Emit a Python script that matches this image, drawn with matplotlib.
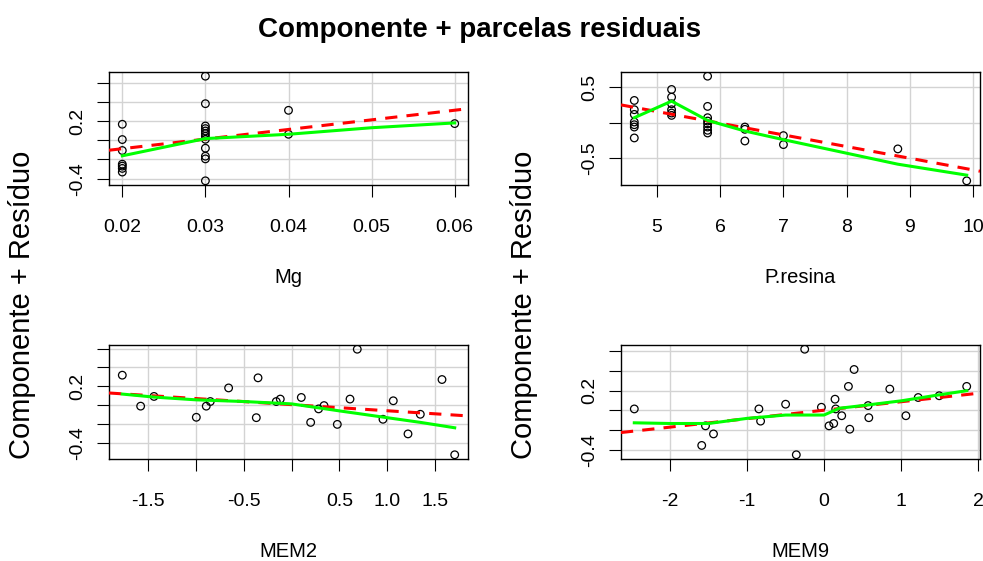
import matplotlib
matplotlib.use("Agg")
import matplotlib.pyplot as plt

plt.rcParams["font.family"] = ["Liberation Sans", "DejaVu Sans"]

# --- Mg ---
mg_x = [0.02, 0.02, 0.02, 0.02, 0.02, 0.02, 0.02,
        0.03, 0.03, 0.03, 0.03, 0.03, 0.03, 0.03, 0.03, 0.03, 0.03, 0.03, 0.03,
        0.04, 0.04, 0.06]
mg_y = [0.166, 0.007, -0.107, -0.249, -0.269, -0.293, -0.331,
        0.666, 0.380, 0.148, 0.121, 0.096, 0.069, 0.041, 0.010, -0.083, -0.166, -0.194, -0.422,
        0.311, 0.062, 0.173]
mg_lin = (10.0, -0.288)  # slope, intercept
mg_lo_x = [0.02, 0.03, 0.04, 0.05, 0.06]
mg_lo_y = [-0.162, 0.017, 0.062, 0.130, 0.180]

# --- P.resina ---
pr_x = [4.64] * 7 + [5.23] * 6 + [5.80] * 8 + [6.39] * 3 + [7.0] * 2 + [8.81, 9.90]
pr_y = [0.314, 0.183, 0.117, 0.009, -0.029, -0.062, -0.216,
        0.469, 0.361, 0.267, 0.183, 0.136, 0.103,
        0.657, 0.230, 0.070, 0.023, -0.014, -0.062, -0.108, -0.146,
        -0.062, -0.094, -0.259,
        -0.183, -0.310,
        -0.371, -0.822]
pr_lin = (-0.165, 0.982)
pr_lo_x = [4.64, 5.23, 5.80, 6.39, 7.0, 8.81, 9.90]
pr_lo_y = [0.070, 0.304, 0.032, -0.118, -0.240, -0.587, -0.742]

# --- MEM2 ---
m2_x = [-1.772, -1.580, -1.440, -0.997, -0.893, -0.851, -0.659, -0.369, -0.351, -0.160,
        -0.118, 0.102, 0.200, 0.283, 0.340, 0.479, 0.612, 0.688, 0.957, 1.065,
        1.219, 1.348, 1.575, 1.708]
m2_y = [0.318, -0.010, 0.093, -0.128, -0.010, 0.039, 0.183, -0.132, 0.290, 0.039,
        0.065, 0.082, -0.182, -0.039, -0.004, -0.203, 0.065, 0.593, -0.149, 0.047,
        -0.304, -0.096, 0.272, -0.525]
m2_lin = (-0.0646, 0.006)
m2_lo_x = [-1.772, -1.44, -1.0, -0.5, 0.0, 0.5, 1.0, 1.35, 1.708]
m2_lo_y = [0.118, 0.086, 0.057, 0.039, 0.014, -0.060, -0.132, -0.182, -0.239]

# --- MEM9 ---
m9_x = [-2.465, -1.589, -1.540, -1.436, -0.846, -0.824, -0.499, -0.360, -0.251, -0.034,
        0.065, 0.126, 0.143, 0.152, 0.230, 0.317, 0.335, 0.391, 0.573, 0.582,
        0.855, 1.064, 1.224, 1.497, 1.854]
m9_y = [0.015, -0.356, -0.157, -0.239, 0.015, -0.109, 0.063, -0.451, 0.622, 0.032,
        -0.157, -0.133, 0.114, 0.015, -0.054, 0.244, -0.191, 0.416, 0.049, -0.074,
        0.217, -0.054, 0.131, 0.149, 0.244]
m9_lin = (0.086, 0.002)
m9_lo_x = [-2.465, -2.0, -1.5, -1.0, -0.5, 0.0, 0.2, 0.5, 1.0, 1.5, 1.854]
m9_lo_y = [-0.126, -0.133, -0.133, -0.081, -0.047, -0.047, 0.022, 0.049, 0.097, 0.159, 0.200]

panels = [
    dict(name="Mg", x=mg_x, y=mg_y, lin=mg_lin, lx=mg_lo_x, ly=mg_lo_y,
         xt=[0.02, 0.03, 0.04, 0.05, 0.06], xl=["0.02", "0.03", "0.04", "0.05", "0.06"],
         yt=[-0.4, -0.2, 0.0, 0.2, 0.4, 0.6], yl=["-0.4", "", "", "0.2", "", ""],
         rect=[109, 72, 468, 185]),
    dict(name="P.resina", x=pr_x, y=pr_y, lin=pr_lin, lx=pr_lo_x, ly=pr_lo_y,
         xt=[5, 6, 7, 8, 9, 10], xl=["5", "6", "7", "8", "9", "10"],
         yt=[-0.5, 0.0, 0.5], yl=["-0.5", "", "0.5"],
         rect=[621, 72, 980, 185]),
    dict(name="MEM2", x=m2_x, y=m2_y, lin=m2_lin, lx=m2_lo_x, ly=m2_lo_y,
         xt=[-1.5, -1.0, -0.5, 0.0, 0.5, 1.0, 1.5],
         xl=["-1.5", "", "-0.5", "", "0.5", "1.0", "1.5"],
         yt=[-0.4, -0.2, 0.0, 0.2, 0.4, 0.6], yl=["-0.4", "", "", "0.2", "", ""],
         rect=[109, 345, 468, 459]),
    dict(name="MEM9", x=m9_x, y=m9_y, lin=m9_lin, lx=m9_lo_x, ly=m9_lo_y,
         xt=[-2, -1, 0, 1, 2], xl=["-2", "-1", "0", "1", "2"],
         yt=[-0.4, -0.2, 0.0, 0.2, 0.4, 0.6], yl=["-0.4", "", "", "0.2", "", ""],
         rect=[621, 345, 980, 459]),
]


def padded(v, frac=0.04):
    lo, hi = min(v), max(v)
    d = (hi - lo) * frac
    return lo - d, hi + d


W, H = 983, 561
fig = plt.figure(figsize=(W / 100, H / 100), dpi=100)

for p in panels:
    x0, y0, x1, y1 = p["rect"]
    ax = fig.add_axes([x0 / W, 1 - y1 / H, (x1 - x0) / W, (y1 - y0) / H])
    ax.scatter(p["x"], p["y"], s=30, facecolors="none", edgecolors="black",
               linewidths=0.9, zorder=3)
    s, c = p["lin"]
    ax.axline((0, c), slope=s, color="#FF0000", lw=2.2, ls=(0, (4, 3)), zorder=4)
    ax.plot(p["lx"], p["ly"], color="#00FF00", lw=2.2, zorder=5)
    ax.set_xlim(*padded(p["x"]))
    ax.set_ylim(*padded(p["y"]))
    ax.set_xticks(p["xt"])
    ax.set_xticklabels(p["xl"], fontsize=14)
    ax.set_yticks(p["yt"])
    ax.set_yticklabels(p["yl"], fontsize=14, rotation=90, va="center")
    ax.grid(True, color="#D3D3D3", lw=1.0, zorder=0)
    ax.set_axisbelow(True)
    ax.tick_params(length=8.5, width=0.8, color="black")
    ax.tick_params(axis="x", pad=16)
    ax.tick_params(axis="y", pad=8)
    for sp in ax.spines.values():
        sp.set_linewidth(1.0)
    ax.set_xlabel(p["name"], fontsize=14.5, labelpad=23)

fig.text(480 / W, 1 - 30 / H, "Componente + parcelas residuais", fontsize=20,
         fontweight="bold", ha="center", va="center")
fig.text(22 / W, 1 - 305 / H, "Componente + Resíduo", fontsize=21,
         rotation=90, ha="center", va="center")
fig.text(524 / W, 1 - 305 / H, "Componente + Resíduo", fontsize=21,
         rotation=90, ha="center", va="center")

fig.savefig("out.png", dpi=100, facecolor="white")
